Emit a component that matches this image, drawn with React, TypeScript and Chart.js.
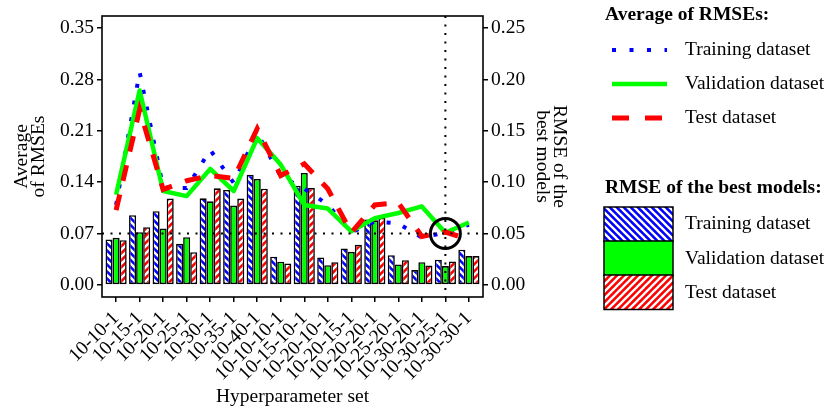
import React, { useEffect, useRef } from "react";
import { Chart, registerables } from "chart.js";

Chart.register(...registerables);

// ---------- data ----------
const categories = [
  "10-10-1", "10-15-1", "10-20-1", "10-25-1", "10-30-1", "10-35-1", "10-40-1",
  "10-10-10-1", "10-15-10-1", "10-20-10-1", "10-20-15-1", "10-20-20-1",
  "10-25-20-1", "10-30-20-1", "10-30-25-1", "10-30-30-1",
];

// Average of RMSEs (left axis)
const avgTraining = [0.109, 0.29, 0.133, 0.132, 0.184, 0.139, 0.207, 0.148, 0.131, 0.1095, 0.0714, 0.0864, 0.0837, 0.0646, 0.0714, 0.082];
const avgValidation = [0.123, 0.265, 0.128, 0.121, 0.158, 0.128, 0.2, 0.164, 0.109, 0.104, 0.073, 0.091, 0.098, 0.107, 0.071, 0.085];
const avgTest = [0.102, 0.239, 0.13, 0.142, 0.149, 0.145, 0.213, 0.149, 0.165, 0.131, 0.071, 0.109, 0.112, 0.066, 0.072, 0.062];

// RMSE of the best models (right axis)
const bestTraining = [0.0442, 0.0678, 0.0717, 0.04, 0.0843, 0.0924, 0.1073, 0.0274, 0.0966, 0.0267, 0.0354, 0.0636, 0.0289, 0.0144, 0.0245, 0.0342];
const bestValidation = [0.0458, 0.0513, 0.0549, 0.0464, 0.0814, 0.0772, 0.1031, 0.0225, 0.109, 0.0192, 0.0322, 0.0629, 0.0199, 0.0221, 0.0183, 0.028];
const bestTest = [0.0435, 0.0561, 0.084, 0.0318, 0.094, 0.084, 0.0937, 0.0209, 0.0944, 0.0221, 0.039, 0.0652, 0.0241, 0.0189, 0.0228, 0.028];

const leftTicks = [0, 0.07, 0.14, 0.21, 0.28, 0.35];
const rightTicks = [0, 0.05, 0.1, 0.15, 0.2, 0.25];

const seriesNames = ["Training dataset", "Validation dataset", "Test dataset"];
const legendHeadings = ["Average of RMSEs:", "RMSE of the best models:"];
const leftTitle = ["Average", "of RMSEs"];
const rightTitle = ["RMSE of the", "best models"];
const xTitle = "Hyperparameter set";

const selectedIndex = 14; // 10-30-25-1
const selectedAverage = 0.07;

// ---------- styling ----------
const FAMILY = "'Liberation Serif', 'Times New Roman', serif";
const FS = 19.5;
const BLUE = "#0000FF";
const GREEN = "#00FF00";
const RED = "#FF0000";

function makeHatch(ctx: CanvasRenderingContext2D, bg: string, dir: "back" | "fwd") {
  const s = 7;
  const c = document.createElement("canvas");
  c.width = s;
  c.height = s;
  const g = c.getContext("2d")!;
  g.fillStyle = bg;
  g.fillRect(0, 0, s, s);
  g.strokeStyle = "#FFFFFF";
  g.lineWidth = 2.3;
  g.beginPath();
  for (const k of [-s, 0, s]) {
    if (dir === "back") {
      g.moveTo(k - 1, -1);
      g.lineTo(k + s + 1, s + 1);
    } else {
      g.moveTo(k - 1, s + 1);
      g.lineTo(k + s + 1, -1);
    }
  }
  g.stroke();
  return ctx.createPattern(c, "repeat")!;
}

export default function App() {
  const canvasRef = useRef<HTMLCanvasElement | null>(null);

  useEffect(() => {
    document.body.style.margin = "0";
    const canvas = canvasRef.current!;
    const ctx = canvas.getContext("2d")!;
    const blueHatch = makeHatch(ctx, BLUE, "back");
    const redHatch = makeHatch(ctx, RED, "fwd");

    Chart.defaults.font.family = FAMILY;
    Chart.defaults.font.size = FS;
    Chart.defaults.color = "#000";

    const toXY = (arr: number[]) => arr.map((v, i) => ({ x: i, y: v }));

    const overlay = {
      id: "overlay",
      afterDatasetsDraw(chart: any) {
        const c = chart.ctx as CanvasRenderingContext2D;
        const { left, right, top, bottom } = chart.chartArea;
        const xs = chart.scales.x;
        const ys = chart.scales.y;
        const hy = ys.getPixelForValue(selectedAverage);
        const vx = xs.getPixelForValue(selectedIndex);
        c.save();
        c.strokeStyle = "#000";
        c.lineWidth = 2;
        c.lineCap = "butt";
        c.setLineDash([2, 6.5]);
        c.beginPath();
        c.moveTo(left, hy);
        c.lineTo(right, hy);
        c.stroke();
        c.beginPath();
        c.moveTo(vx, top);
        c.lineTo(vx, bottom);
        c.stroke();
        c.setLineDash([]);
        c.lineWidth = 3;
        c.beginPath();
        c.arc(vx, hy, 15, 0, Math.PI * 2);
        c.stroke();
        c.restore();
      },
      afterDraw(chart: any) {
        const c = chart.ctx as CanvasRenderingContext2D;
        const { left, right, top, bottom } = chart.chartArea;
        c.save();
        c.strokeStyle = "#000";
        c.lineWidth = 1.6;
        c.strokeRect(left, top, right - left, bottom - top);

        // legend
        c.fillStyle = "#000";
        c.textBaseline = "middle";
        c.textAlign = "left";
        c.font = `bold ${FS}px ${FAMILY}`;
        c.fillText(legendHeadings[0], 605, 15);
        c.fillText(legendHeadings[1], 605, 188);

        const lineYs = [50, 84, 118];
        const lx0 = 612;
        const lx1 = 667;
        c.lineCap = "butt";
        c.strokeStyle = BLUE;
        c.lineWidth = 4;
        c.setLineDash([4, 13.5]);
        c.beginPath();
        c.moveTo(lx0, lineYs[0]);
        c.lineTo(lx1, lineYs[0]);
        c.stroke();
        c.strokeStyle = GREEN;
        c.lineWidth = 4.5;
        c.setLineDash([]);
        c.beginPath();
        c.moveTo(lx0, lineYs[1]);
        c.lineTo(lx1, lineYs[1]);
        c.stroke();
        c.strokeStyle = RED;
        c.lineWidth = 5;
        c.setLineDash([17, 16]);
        c.beginPath();
        c.moveTo(lx0, lineYs[2]);
        c.lineTo(lx1, lineYs[2]);
        c.stroke();
        c.setLineDash([]);

        c.font = `${FS}px ${FAMILY}`;
        seriesNames.forEach((n, i) => c.fillText(n, 685, lineYs[i]));

        const boxTops = [207, 241, 275];
        const boxH = 34.5;
        const fills: any[] = [blueHatch, GREEN, redHatch];
        boxTops.forEach((bt, i) => {
          c.fillStyle = fills[i];
          c.fillRect(604, bt, 69, boxH);
          c.strokeStyle = "#000";
          c.lineWidth = 1.5;
          c.strokeRect(604, bt, 69, boxH);
        });
        c.fillStyle = "#000";
        const boxTextYs = [224, 259, 293];
        seriesNames.forEach((n, i) => c.fillText(n, 685, boxTextYs[i]));
        c.restore();
      },
    };

    const tickGrid = {
      display: true,
      drawOnChartArea: false,
      drawTicks: true,
      tickLength: 5,
      color: "#000",
      lineWidth: 1.5,
    };

    const chart = new Chart(canvas, {
      type: "bar",
      data: {
        datasets: [
          {
            type: "line",
            label: seriesNames[2],
            data: toXY(avgTest),
            yAxisID: "y",
            borderColor: RED,
            borderWidth: 5,
            borderDash: [16, 14],
            borderCapStyle: "butt",
            pointRadius: 0,
            tension: 0,
            order: 0,
          } as any,
          {
            type: "line",
            label: seriesNames[1],
            data: toXY(avgValidation),
            yAxisID: "y",
            borderColor: GREEN,
            borderWidth: 4.5,
            borderJoinStyle: "round",
            pointRadius: 0,
            tension: 0,
            order: 1,
          } as any,
          {
            type: "line",
            label: seriesNames[0],
            data: toXY(avgTraining),
            yAxisID: "y",
            borderColor: BLUE,
            borderWidth: 4,
            borderDash: [4, 13],
            borderCapStyle: "butt",
            pointRadius: 0,
            tension: 0,
            order: 2,
          } as any,
          {
            type: "bar",
            label: seriesNames[0],
            data: toXY(bestTraining),
            yAxisID: "y1",
            backgroundColor: blueHatch,
            borderColor: "#000",
            borderWidth: 1.6,
            borderSkipped: false,
            categoryPercentage: 0.9,
            barPercentage: 1,
            order: 3,
          } as any,
          {
            type: "bar",
            label: seriesNames[1],
            data: toXY(bestValidation),
            yAxisID: "y1",
            backgroundColor: GREEN,
            borderColor: "#000",
            borderWidth: 1.6,
            borderSkipped: false,
            categoryPercentage: 0.9,
            barPercentage: 1,
            order: 4,
          } as any,
          {
            type: "bar",
            label: seriesNames[2],
            data: toXY(bestTest),
            yAxisID: "y1",
            backgroundColor: redHatch,
            borderColor: "#000",
            borderWidth: 1.6,
            borderSkipped: false,
            categoryPercentage: 0.9,
            barPercentage: 1,
            order: 5,
          } as any,
        ],
      },
      options: {
        responsive: false,
        animation: false,
        devicePixelRatio: 1,
        layout: { padding: { left: 0, top: 16, right: 258, bottom: 0 } },
        plugins: { legend: { display: false }, tooltip: { enabled: false } },
        scales: {
          x: {
            type: "linear",
            min: -0.6,
            max: categories.length - 1 + 0.6,
            offset: false,
            grid: { ...tickGrid, offset: false },
            border: { display: false },
            afterBuildTicks: (s: any) => {
              s.ticks = categories.map((_, i) => ({ value: i }));
            },
            afterFit: (s: any) => {
              s.height = 115;
            },
            ticks: {
              autoSkip: false,
              minRotation: 45,
              maxRotation: 45,
              padding: 5,
              color: "#000",
              font: { size: FS, family: FAMILY },
              callback: (_v: any, i: number) => categories[i],
            },
            title: {
              display: true,
              text: xTitle,
              color: "#000",
              font: { size: FS, family: FAMILY, lineHeight: 1.2 },
              padding: { top: 0, bottom: 3 },
            },
          },
          y: {
            type: "linear",
            position: "left",
            min: -0.0165,
            max: 0.3665,
            grid: tickGrid,
            border: { display: false },
            afterBuildTicks: (s: any) => {
              s.ticks = leftTicks.map((v) => ({ value: v }));
            },
            afterFit: (s: any) => {
              s.width = 102;
            },
            ticks: {
              padding: 3,
              color: "#000",
              font: { size: FS, family: FAMILY },
              callback: (v: any) => Number(v).toFixed(2),
            },
            title: {
              display: true,
              text: leftTitle,
              color: "#000",
              font: { size: FS, family: FAMILY, lineHeight: 0.9 },
              padding: { top: 13, bottom: 0 },
            },
          },
          y1: {
            type: "linear",
            position: "right",
            min: -0.0118,
            max: 0.2618,
            grid: tickGrid,
            border: { display: false },
            afterBuildTicks: (s: any) => {
              s.ticks = rightTicks.map((v) => ({ value: v }));
            },
            afterFit: (s: any) => {
              s.width = 90;
            },
            ticks: {
              padding: 3,
              color: "#000",
              font: { size: FS, family: FAMILY },
              callback: (v: any) => Number(v).toFixed(2),
            },
            title: {
              display: true,
              text: rightTitle,
              color: "#000",
              font: { size: FS, family: FAMILY, lineHeight: 0.9 },
              padding: { top: 5, bottom: 0 },
            },
          },
        },
      } as any,
      plugins: [overlay],
    });

    return () => chart.destroy();
  }, []);

  return (
    <div style={{ position: "fixed", left: 0, top: 0, width: 831, height: 412, background: "#fff" }}>
      <canvas ref={canvasRef} width={831} height={412} style={{ display: "block", width: 831, height: 412 }} />
    </div>
  );
}
